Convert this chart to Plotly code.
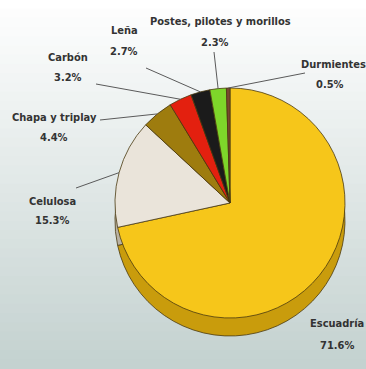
import math
import plotly.graph_objects as go

# ---- data ----
categories = ["Escuadría", "Celulosa", "Chapa y triplay", "Carbón", "Leña",
              "Postes, pilotes y morillos", "Durmientes"]
values = [71.6, 15.3, 4.4, 3.2, 2.7, 2.3, 0.5]
pct_labels = ["71.6%", "15.3%", "4.4%", "3.2%", "2.7%", "2.3%", "0.5%"]

colors = ["#F6C61A", "#EAE4DA", "#9E7C0E", "#E3200F", "#1B1B1B", "#7ED62A", "#7A4630"]
side_colors = ["#C99C0C", "#B9B2A4", "#6E560A", "#A01508", "#101010", "#56981C", "#52301F"]

W, H = 366, 369
cx, cy, r = 230, 203, 115   # pie centre / radius in pixels
depth = 18

def dom(cx_, cy_):
    return dict(x=[(cx_ - r) / W, (cx_ + r) / W],
                y=[(H - cy_ - r) / H, (H - cy_ + r) / H])

fig = go.Figure()

# background gradient
n = 40
top = (255, 255, 255)
bot = (196, 210, 208)
for i in range(n):
    t = i / (n - 1)
    c = tuple(int(top[k] + (bot[k] - top[k]) * t) for k in range(3))
    fig.add_shape(type="rect", xref="paper", yref="paper",
                  x0=0, x1=1, y0=1 - (i + 1) / n, y1=1 - i / n + 0.002,
                  fillcolor="rgb(%d,%d,%d)" % c, line_width=0, layer="below")

# side (depth) of the pie
fig.add_trace(go.Pie(values=values, labels=categories, sort=False,
                     direction="clockwise", rotation=0,
                     marker=dict(colors=side_colors, line=dict(color="#4a3a10", width=0.8)),
                     textinfo="none", hoverinfo="skip", showlegend=False,
                     domain=dom(cx, cy + depth)))
# top face
fig.add_trace(go.Pie(values=values, labels=categories, sort=False,
                     direction="clockwise", rotation=0,
                     marker=dict(colors=colors, line=dict(color="#4a3a10", width=0.8)),
                     textinfo="none", showlegend=False,
                     domain=dom(cx, cy)))

# label placement (pixels): name centre, pct centre, leader-line tail (or None)
label_layout = [
    ((337, 323), (337, 345), None),
    ((52, 201), (52, 220), (76, 188)),
    ((54, 118), (54, 137), (100, 120)),
    ((68, 57), (68, 77), (96, 84)),
    ((124, 30), (124, 52), (146, 68)),
    ((220, 22), (215, 43), (214, 52)),
    ((333, 64), (330, 84), (305, 73)),
]

font = dict(family="DejaVu Sans Condensed, Liberation Sans Narrow, sans-serif",
            size=11, color="#333333", weight="bold")

def px2paper(x, y):
    return x / W, 1 - y / H

cum = 0.0
total = sum(values)
for cat, v, pl, (npos, ppos, tail) in zip(categories, values, pct_labels, label_layout):
    mid = (cum + v / 2) / total * 2 * math.pi
    cum += v
    tipx = cx + r * math.sin(mid)
    tipy = cy - r * math.cos(mid)
    for txt, (tx, ty) in ((cat, npos), (pl, ppos)):
        x, y = px2paper(tx, ty)
        fig.add_annotation(x=x, y=y, xref="paper", yref="paper", text=txt,
                           showarrow=False, xanchor="center", yanchor="middle",
                           font=font)
    if tail is not None:
        x0, y0 = px2paper(*tail)
        x1, y1 = px2paper(tipx, tipy)
        fig.add_shape(type="line", xref="paper", yref="paper",
                      x0=x0, y0=y0, x1=x1, y1=y1,
                      line=dict(color="#5a5a5a", width=1))

fig.update_layout(width=W, height=H, margin=dict(l=0, r=0, t=0, b=0),
                  paper_bgcolor="white", plot_bgcolor="white", showlegend=False)

fig.write_html("out.html")
